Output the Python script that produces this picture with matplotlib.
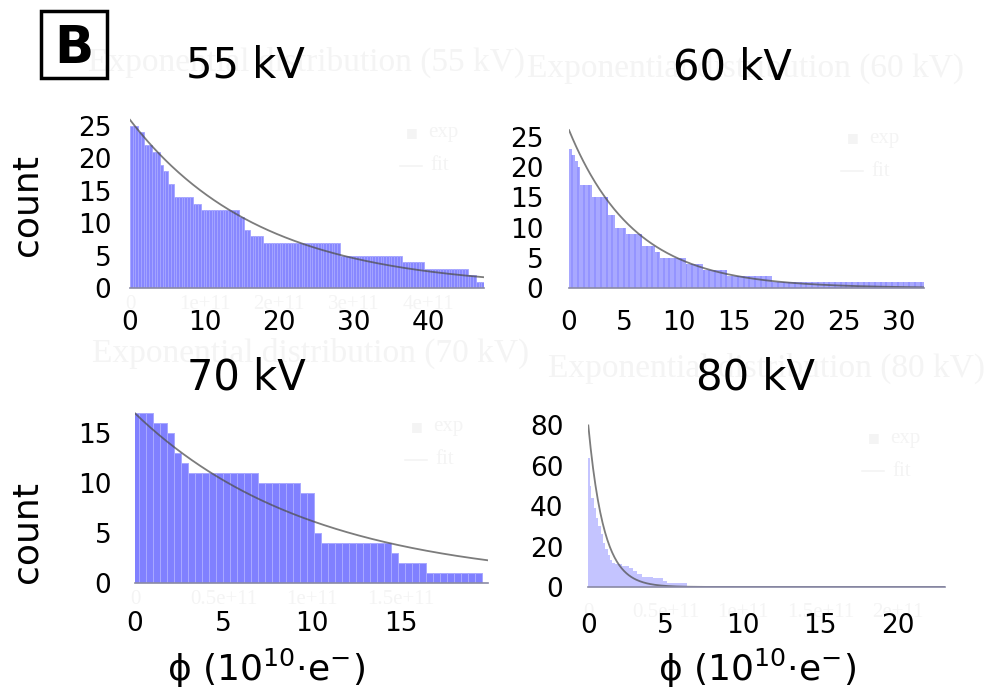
import numpy as np
import matplotlib
matplotlib.use('Agg')
import matplotlib.pyplot as plt
from matplotlib.lines import Line2D
from matplotlib.patches import Rectangle

# 55 kV : step heights of the histogram (phi in 1e10 e-)
edges55 = [0, 0.94, 1.88, 2.95, 3.89, 4.56, 5.10, 5.77, 8.46, 9.66, 14.77, 15.44,
           15.97, 17.99, 28.19, 36.51, 39.33, 45.37, 46.58, 47.52]
counts55 = [25, 24, 22, 21, 19, 18, 16, 14, 13, 12, 11, 9, 8, 7, 5, 4, 3, 2, 1]
fit55 = (25.9, 17.4)      # amplitude, decay length

# 60 kV
edges60 = [0, 0.22, 0.45, 0.7, 1.0, 2.06, 3.43, 4.04, 5.25, 6.62, 7.83, 8.44,
           10.7, 12.1, 14.4, 18.5, 32.3]
counts60 = [23, 22, 21, 20, 17, 15, 12, 10, 9, 7, 6, 5, 4, 3, 2, 1]
fit60 = (26.1, 5.93)

# 70 kV : one count per bin, bin width 0.395
binw70 = 0.395
counts70 = [17, 17, 17, 16, 16, 15, 13, 12,
            11, 11, 11, 11, 11, 11, 11, 11, 11, 11,
            10, 10, 10, 10, 10, 10, 9, 9, 5,
            4, 4, 4, 4, 4, 4, 4, 4, 4, 4, 3,
            2, 2, 2, 2, 1, 1, 1, 1, 1, 1, 1, 1]
fit70 = (17.0, 9.95)

# 80 kV
edges80 = [0, 0.1, 0.2, 0.35, 0.5, 0.65, 0.8, 0.95, 1.1, 1.25, 1.4, 1.55, 1.75,
           2.2, 2.6, 2.9, 3.15, 3.45, 4.2, 4.85, 5.1, 6.4, 23.05]
counts80 = [64, 50, 44, 39, 34, 30, 26, 22, 19, 16, 13.5, 12, 11.2, 10.2, 9.2,
            7.8, 6.5, 5, 4.3, 3.1, 2.1, 0.7]
fit80 = (80.0, 1.0)

titles = ['55 kV', '60 kV', '70 kV', '80 kV']
ghost_titles = ['Exponential distribution (%s)' % t for t in titles]

W, H = 987, 688
ghost = '#f4f4f4'
fig = plt.figure(figsize=(W / 100, H / 100), dpi=100)


def add_ax(left, y0, w, h):
    return fig.add_axes([left / W, (H - y0) / H, w / W, h / H])


def ftext(x, y, s, **kw):
    fig.text(x / W, 1 - y / H, s, **kw)


def lookup(edges, counts, x):
    idx = np.searchsorted(edges, x, side='right') - 1
    return np.asarray(counts)[np.clip(idx, 0, len(counts) - 1)]


def style(ax, xmax, ymax, xticks, yticks, xpad, ypad):
    ax.set_xlim(0, xmax)
    ax.set_ylim(0, ymax)
    for s in ['top', 'right', 'left']:
        ax.spines[s].set_visible(False)
    ax.spines['bottom'].set_color('#8a8aa6')
    ax.spines['bottom'].set_linewidth(1.2)
    ax.set_xticks(xticks)
    ax.set_yticks(yticks)
    ax.tick_params(axis='x', length=0, pad=xpad, labelsize=19)
    ax.tick_params(axis='y', length=0, pad=ypad, labelsize=19)
    ax.patch.set_alpha(0)


def fit_line(ax, fit, xmax):
    x = np.linspace(0, xmax, 300)
    ax.plot(x, fit[0] * np.exp(-x / fit[1]), color='#505050', alpha=0.75, lw=1.3)


def ghost_ticks(ax, vals, labels, off):
    for v, s in zip(vals, labels):
        ax.annotate(s, (v, 0), xycoords=('data', 'axes fraction'), xytext=(0, -off),
                    textcoords='offset points', ha='center', va='center', color=ghost,
                    family='Liberation Serif', fontsize=15, annotation_clip=False,
                    zorder=0)


# ---- 55 kV
ax1 = add_ax(130, 288.2, 354, 172.25)
w1 = 47.52 / 130
x1 = np.arange(130) * w1
ax1.bar(x1, lookup(edges55, counts55, x1 + w1 / 2), width=w1, align='edge',
        color='#8787ff', edgecolor='#a6a6ff', linewidth=0.6)
fit_line(ax1, fit55, 47.52)
style(ax1, 47.52, 26.5, [0, 10, 20, 30, 40], range(0, 26, 5), 16, 13.5)
ghost_ticks(ax1, [0, 10, 20, 30, 40], ['0', '1e+11', '2e+11', '3e+11', '4e+11'], 12)

# ---- 60 kV
ax2 = add_ax(569, 288, 354.7, 163.35)
w2 = 0.26
x2 = np.arange(0, 32.3, w2)
ax2.bar(x2, lookup(edges60, counts60, x2 + w2 / 2), width=w2, align='edge',
        color='#a8a8ff', linewidth=0)
xs = np.arange(0.3, 32.3, 0.52)
ax2.bar(xs, lookup(edges60, counts60, xs), width=0.18, color='#9494ff', linewidth=0)
fit_line(ax2, fit60, 32.3)
style(ax2, 32.3, 27, range(0, 31, 5), range(0, 26, 5), 16, 18.5)

# ---- 70 kV
ax3 = add_ax(135, 583.3, 352.8, 174)
x3 = np.arange(len(counts70)) * binw70
ax3.bar(x3, counts70, width=binw70, color='#8080ff', edgecolor='#a9a9ff', linewidth=0.7)
fit_line(ax3, fit70, 19.9)
style(ax3, 19.9, 17.4, [0, 5, 10, 15], [0, 5, 10, 15], 20, 17)
ghost_ticks(ax3, [0, 5, 10, 15], ['0', '0.5e+11', '1e+11', '1.5e+11'], 12)

# ---- 80 kV
ax4 = add_ax(588.3, 587, 356.7, 165.6)
ax4.stairs(counts80, edges80, fill=True, color='#c4c4ff')
fit_line(ax4, fit80, 23.06)
style(ax4, 23.06, 82, [0, 5, 10, 15, 20], range(0, 81, 20), 18.5, 18)
ghost_ticks(ax4, [0, 5, 10, 15, 20], ['0', '0.5e+11', '1e+11', '1.5e+11', '2e+11'], 18.5)

# ghost titles and legends of the underlying plots
for (cx, cy), t in zip([(307, 62), (746, 68), (311, 353), (767, 368)], ghost_titles):
    ftext(cx, cy, t, ha='center', va='center', color=ghost, family='Liberation Serif',
          fontsize=24, zorder=0)
for sx, sy in [(412, 133), (853, 138), (417, 427), (874, 438)]:
    ftext(sx, sy, '■', ha='center', va='center', color=ghost, fontsize=9)
    ftext(sx + 16, sy, 'exp', ha='left', va='center', color=ghost,
          family='Liberation Serif', fontsize=15)
    fig.add_artist(Line2D([(sx - 12) / W, (sx + 10) / W], [1 - (sy + 33) / H] * 2,
                          color=ghost, lw=1.2))
    ftext(sx + 18, sy + 33, 'fit', ha='left', va='center', color=ghost,
          family='Liberation Serif', fontsize=15)

# big overlay titles and labels
for (cx, by), t in zip([(245, 78), (732, 80), (246, 390), (755, 390)], titles):
    ftext(cx, by, t, ha='center', va='baseline', fontsize=30)
ftext(27, 205, 'count', ha='center', va='center', rotation=90, fontsize=26)
ftext(27, 532, 'count', ha='center', va='center', rotation=90, fontsize=26)
xlab = 'ϕ (10$^{10}$·e$^{\\mathsf{-}}$)'
ftext(266, 668, xlab, ha='center', va='center', fontsize=26)
ftext(757, 668, xlab, ha='center', va='center', fontsize=26)

# panel letter
fig.add_artist(Rectangle((41 / W, 1 - 78 / H), 66 / W, 67 / H, transform=fig.transFigure,
                         fill=False, edgecolor='black', lw=2.5))
ftext(74, 63, 'B', ha='center', va='baseline', fontsize=37, fontweight='bold')

fig.savefig('out.png', dpi=100)
